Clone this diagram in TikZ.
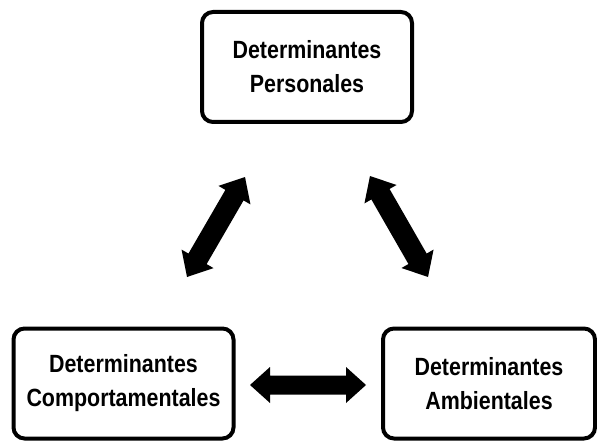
\documentclass[tikz,border=0pt]{standalone}
\usepackage{fontspec}
\newfontfamily\boxfont[FakeStretch=0.86]{Liberation Sans}
\usetikzlibrary{calc}
% #1,#2 end points, #3 shaft half width, #4 head half width, #5 head length
\newcommand\blockdblarrow[5]{%
  \fill[arrowfill] (#1)
    -- ($(#1)!#5!(#2)!#4!90:(#2)$)
    -- ($(#1)!#5!(#2)!#3!90:(#2)$)
    -- ($(#2)!#5!(#1)!#3!-90:(#1)$)
    -- ($(#2)!#5!(#1)!#4!-90:(#1)$)
    -- (#2)
    -- ($(#2)!#5!(#1)!#4!90:(#1)$)
    -- ($(#2)!#5!(#1)!#3!90:(#1)$)
    -- ($(#1)!#5!(#2)!#3!-90:(#2)$)
    -- ($(#1)!#5!(#2)!#4!-90:(#2)$)
    -- cycle;}
\tikzset{
  detbox/.style={draw=black, line width=4pt, rounded corners=11pt, fill=white,
    minimum height=110pt, inner sep=0pt, align=center,
    font=\boxfont\bfseries\fontsize{24.9}{34}\selectfont},
  arrowfill/.style={fill=black}
}
\begin{document}
\begin{tikzpicture}[x=1pt,y=-1pt]
\useasboundingbox (0,0) rectangle (597,441);
\node[detbox, minimum width=210pt] (per) at (307,67) {Determinantes\\Personales};
\node[detbox, minimum width=220pt] (com) at (123.5,383.5) {Determinantes\\Comportamentales};
\node[detbox, minimum width=212pt] (amb) at (489,383.5) {Determinantes\\Ambientales};
\coordinate (l1) at (245,177);
\coordinate (l2) at (187,277);
\coordinate (r1) at (370,176);
\coordinate (r2) at (428,277);
\coordinate (b1) at (250,385);
\coordinate (b2) at (366,385);
\blockdblarrow{l1}{l2}{10.5pt}{18.5pt}{21pt}
\blockdblarrow{r1}{r2}{10.5pt}{18.5pt}{21pt}
\blockdblarrow{b1}{b2}{9.5pt}{18pt}{20pt}
\end{tikzpicture}
\end{document}
